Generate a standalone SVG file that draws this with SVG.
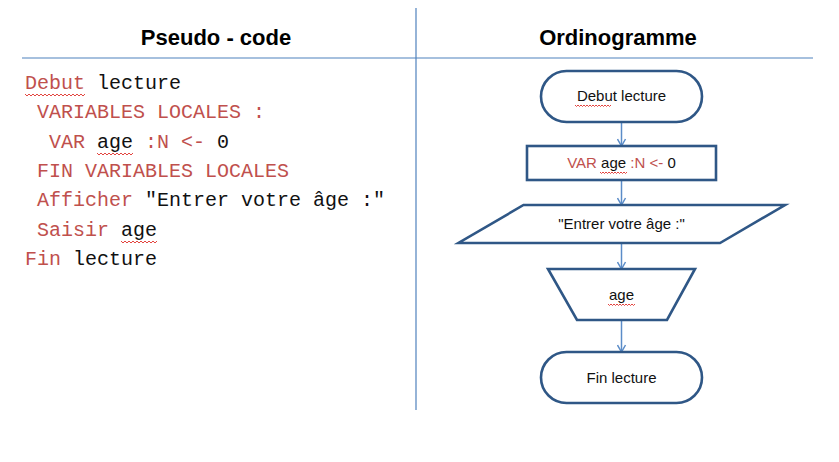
<svg xmlns="http://www.w3.org/2000/svg" width="839" height="462" viewBox="0 0 839 462">
<style>
.title{font-family:"Liberation Sans",Arial,sans-serif;font-weight:bold;font-size:22px;fill:#000;text-anchor:middle}
.code{font-family:"Liberation Mono","Courier New",monospace;font-size:20px;fill:#111}
.kw{fill:#c0504d}
.shape{fill:#fff;stroke:#2f5786;stroke-width:2.6}
.lbl{font-family:"Liberation Sans",Arial,sans-serif;font-size:15px;fill:#111;text-anchor:middle}
.conn{stroke:#5b8cc8;stroke-width:1.5;fill:none}
.sq{stroke:#e0302a;stroke-width:0.9;fill:none}
.rule{stroke:#4f81bd;stroke-width:1.2}
</style>
<defs>
<marker id="arr" markerWidth="10" markerHeight="10" refX="8" refY="5" orient="auto" markerUnits="userSpaceOnUse">
<path d="M1,1 L8,5 L1,9" fill="none" stroke="#5b8cc8" stroke-width="1.5"/>
</marker>
</defs>
<rect width="839" height="462" fill="#fff"/>
<line class="rule" x1="22" y1="58" x2="813" y2="58"/>
<line class="rule" x1="416" y1="8" x2="416" y2="410"/>
<text class="title" x="216" y="45">Pseudo - code</text>
<text class="title" x="618" y="45">Ordinogramme</text>

<g id="code">
<text class="code" x="25" y="89"><tspan class="kw">Debut</tspan> lecture</text>
<text class="code" x="37" y="118"><tspan class="kw">VARIABLES LOCALES :</tspan></text>
<text class="code" x="49" y="148"><tspan class="kw">VAR</tspan> age <tspan class="kw">:N &lt;-</tspan> 0</text>
<text class="code" x="37" y="177"><tspan class="kw">FIN VARIABLES LOCALES</tspan></text>
<text class="code" x="37" y="206"><tspan class="kw">Afficher</tspan> "Entrer votre âge :"</text>
<text class="code" x="37" y="236"><tspan class="kw">Saisir</tspan> age</text>
<text class="code" x="25" y="265"><tspan class="kw">Fin</tspan> lecture</text>
<path class="sq" d="M25,94 l2,2 l2,-2 l2,2 l2,-2 l2,2 l2,-2 l2,2 l2,-2 l2,2 l2,-2 l2,2 l2,-2 l2,2 l2,-2 l2,2 l2,-2 l2,2 l2,-2 l2,2 l2,-2 l2,2 l2,-2 l2,2 l2,-2 l2,2 l2,-2 l2,2 l2,-2 l2,2 l2,-2"/>
<path class="sq" d="M97,153 l2,2 l2,-2 l2,2 l2,-2 l2,2 l2,-2 l2,2 l2,-2 l2,2 l2,-2 l2,2 l2,-2 l2,2 l2,-2 l2,2 l2,-2 l2,2 l2,-2"/>
<path class="sq" d="M121,241 l2,2 l2,-2 l2,2 l2,-2 l2,2 l2,-2 l2,2 l2,-2 l2,2 l2,-2 l2,2 l2,-2 l2,2 l2,-2 l2,2 l2,-2 l2,2 l2,-2"/>
</g>

<g id="connectors">
<line class="conn" x1="621.5" y1="122" x2="621.5" y2="146" marker-end="url(#arr)"/>
<line class="conn" x1="621.5" y1="180" x2="621.5" y2="205" marker-end="url(#arr)"/>
<line class="conn" x1="621.5" y1="243" x2="621.5" y2="269" marker-end="url(#arr)"/>
<line class="conn" x1="621.5" y1="320" x2="621.5" y2="352" marker-end="url(#arr)"/>
</g>

<g id="n-debut">
<rect class="shape" x="541" y="71" width="161" height="51" rx="25.5"/>
<text class="lbl" x="621.5" y="101">Debut lecture</text>
<path class="sq" d="M575,105 l1.5,1.5 l1.5,-1.5 l1.5,1.5 l1.5,-1.5 l1.5,1.5 l1.5,-1.5 l1.5,1.5 l1.5,-1.5 l1.5,1.5 l1.5,-1.5 l1.5,1.5 l1.5,-1.5 l1.5,1.5 l1.5,-1.5 l1.5,1.5 l1.5,-1.5 l1.5,1.5 l1.5,-1.5 l1.5,1.5 l1.5,-1.5 l1.5,1.5 l1.5,-1.5 l1.5,1.5 l1.5,-1.5"/>
</g>

<g id="n-var">
<rect class="shape" x="527" y="146" width="189" height="34"/>
<text class="lbl" x="621.5" y="168"><tspan fill="#c0504d">VAR</tspan> age <tspan fill="#c0504d">:N &lt;-</tspan> 0</text>
<path class="sq" d="M600,172 l1.5,1.5 l1.5,-1.5 l1.5,1.5 l1.5,-1.5 l1.5,1.5 l1.5,-1.5 l1.5,1.5 l1.5,-1.5 l1.5,1.5 l1.5,-1.5 l1.5,1.5 l1.5,-1.5 l1.5,1.5 l1.5,-1.5 l1.5,1.5 l1.5,-1.5 l1.5,1.5 l1.5,-1.5"/>
</g>

<g id="n-afficher">
<polygon class="shape" points="523.5,205 785,205 720,243 458.5,243"/>
<text class="lbl" x="621.5" y="229">"Entrer votre âge :"</text>
</g>

<g id="n-saisir">
<polygon class="shape" points="548,269 695,269 667,320 577,320"/>
<text class="lbl" x="621.5" y="300">age</text>
<path class="sq" d="M608,304 l1.5,1.5 l1.5,-1.5 l1.5,1.5 l1.5,-1.5 l1.5,1.5 l1.5,-1.5 l1.5,1.5 l1.5,-1.5 l1.5,1.5 l1.5,-1.5 l1.5,1.5 l1.5,-1.5 l1.5,1.5 l1.5,-1.5 l1.5,1.5 l1.5,-1.5 l1.5,1.5 l1.5,-1.5"/>
</g>

<g id="n-fin">
<rect class="shape" x="541" y="352" width="161" height="51" rx="25.5"/>
<text class="lbl" x="621.5" y="383">Fin lecture</text>
</g>
</svg>
